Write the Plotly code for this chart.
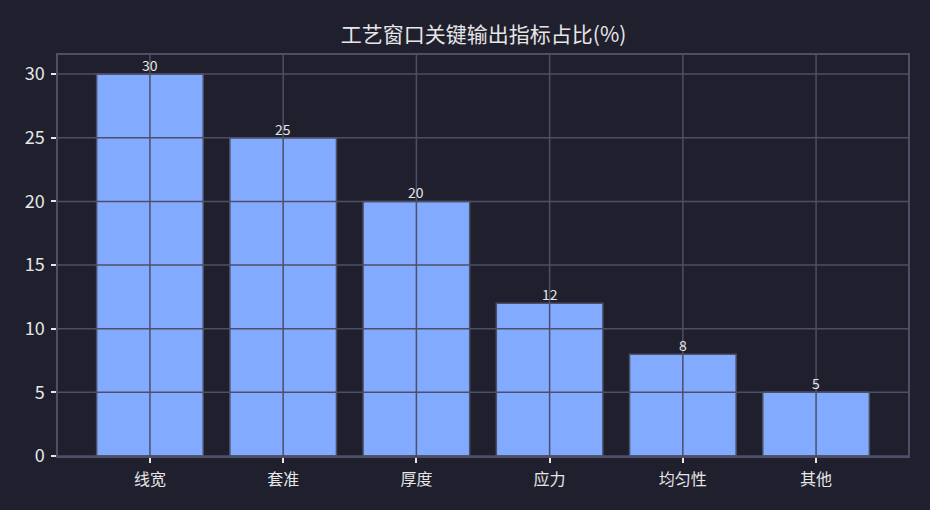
import plotly.graph_objects as go

categories = ["线宽", "套准", "厚度", "应力", "均匀性", "其他"]
values = [30, 25, 20, 12, 8, 5]
y_ticks = [0, 5, 10, 15, 20, 25, 30]
title_text = "工艺窗口关键输出指标占比(%)"

BG = "#1f1f2e"
GRID = "#4c4f66"
BAR = "#82aaff"
TXT = "#e6e6e6"
FONT = "Noto Sans CJK SC"

fig = go.Figure(
    go.Bar(
        x=list(range(len(categories))),
        y=values,
        width=0.8,
        marker=dict(color=BAR, line=dict(color=GRID, width=1.5)),
        hoverinfo="x+y",
    )
)

annotations = []
for i, v in enumerate(values):
    annotations.append(dict(x=i, y=v, xref="x", yref="y", text=str(v), showarrow=False,
                            yanchor="bottom", yshift=-3,
                            font=dict(color=TXT, size=14, family=FONT)))

shapes = []
for i in range(len(categories)):
    shapes.append(dict(type="line", xref="x", yref="paper", x0=i, x1=i, y0=0, y1=1,
                       line=dict(color=GRID, width=1.5), layer="above"))
for t in y_ticks:
    shapes.append(dict(type="line", xref="paper", yref="y", x0=0, x1=1, y0=t, y1=t,
                       line=dict(color=GRID, width=1.5), layer="above"))

fig.update_layout(
    width=930, height=510,
    paper_bgcolor=BG, plot_bgcolor=BG,
    margin=dict(l=58, r=22, t=55, b=54),
    title=dict(text=title_text, x=0.52, xanchor="center", y=0.932, yanchor="middle",
               font=dict(color=TXT, size=21, family=FONT)),
    font=dict(family=FONT, color=TXT),
    showlegend=False,
    shapes=shapes,
    annotations=annotations,
    xaxis=dict(
        range=[-0.69, len(categories) - 1 + 0.69],
        tickmode="array", tickvals=list(range(len(categories))), ticktext=categories,
        showgrid=False, zeroline=False,
        showline=True, linecolor=GRID, linewidth=1.5, mirror=True,
        ticks="outside", ticklen=5, tickwidth=1.5, tickcolor=TXT,
        ticklabelstandoff=3,
        tickfont=dict(size=16, color=TXT, family=FONT),
    ),
    yaxis=dict(
        range=[0, 31.5],
        tickmode="array", tickvals=y_ticks,
        showgrid=False, zeroline=False,
        showline=True, linecolor=GRID, linewidth=1.5, mirror=True,
        ticks="outside", ticklen=5, tickwidth=1.5, tickcolor=TXT,
        ticklabelstandoff=3,
        tickfont=dict(size=18, color=TXT, family=FONT),
    ),
)

fig.write_html(
    "out.html",
    config={"displayModeBar": False},
    post_script="document.body.style.margin='0';document.body.style.background='#1f1f2e';",
)
